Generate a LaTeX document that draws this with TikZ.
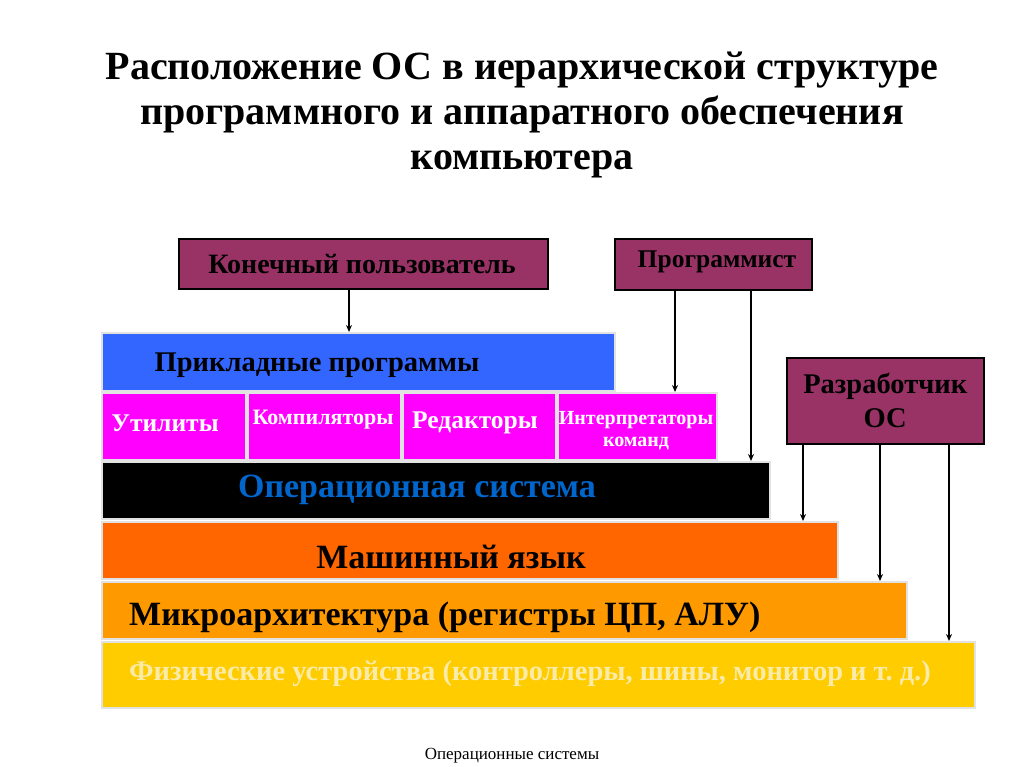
\documentclass[tikz,border=0pt]{standalone}
\usepackage{fontspec}
\setmainfont{Liberation Serif}
\usetikzlibrary{arrows.meta}
\definecolor{maroon}{HTML}{993366}
\definecolor{appblue}{HTML}{3366FF}
\definecolor{mag}{HTML}{FF00FF}
\definecolor{osblue}{HTML}{0066CC}
\definecolor{mlorange}{HTML}{FF6600}
\definecolor{maorange}{HTML}{FF9900}
\definecolor{hwyellow}{HTML}{FFCC00}
\definecolor{hwtext}{HTML}{FAEBA8}
\definecolor{edge}{HTML}{E2E2E2}
\begin{document}
\begin{tikzpicture}[x=1pt,y=-1pt,
  role/.style={draw=black,line width=1.5pt,fill=maroon,inner sep=0pt},
  layer/.style={draw=edge,line width=2pt,inner sep=0pt,anchor=north west},
  arr/.style={line width=1.8pt,-{Stealth[length=7pt,width=6pt]}}]
\useasboundingbox (0,0) rectangle (1024,767);
\fill[white] (0,0) rectangle (1024,767);
% title
\node[align=center,font=\bfseries\fontsize{40}{45}\selectfont] (title) at (522,115)
  {Расположение ОС в иерархической структуре\\программного и аппаратного обеспечения\\компьютера};
% roles
\node[role,minimum width=369pt,minimum height=50pt,anchor=north west] (user) at (178,238) {};
\node[font=\bfseries\fontsize{28}{30}\selectfont] at (362,264) {Конечный пользователь};
\node[role,minimum width=197pt,minimum height=51pt,anchor=north west] (prog) at (614,238) {};
\node[font=\bfseries\fontsize{25.5}{28}\selectfont] at (717,262) {Программист};
\node[role,minimum width=197pt,minimum height=86pt,anchor=north west,align=center,font=\bfseries\fontsize{28.5}{34}\selectfont] (dev) at (786,357) {Разработчик\\ОС};
% layers
\node[layer,fill=appblue,minimum width=513pt,minimum height=58pt] (apps) at (101,332) {};
\node[font=\bfseries\fontsize{28.5}{30}\selectfont] at (317,365) {Прикладные программы};
\node[layer,fill=mag,minimum width=144pt,minimum height=67pt] (util) at (101,392) {};
\node[text=white,font=\bfseries\fontsize{25.5}{28}\selectfont] at (165,423) {Утилиты};
\node[layer,fill=mag,minimum width=153pt,minimum height=67pt] (comp) at (247,392) {};
\node[text=white,font=\bfseries\fontsize{22}{24}\selectfont] at (323,420) {Компиляторы};
\node[layer,fill=mag,minimum width=153pt,minimum height=67pt] (edit) at (402,392) {};
\node[text=white,font=\bfseries\fontsize{25.5}{28}\selectfont] at (475,423) {Редакторы};
\node[layer,fill=mag,minimum width=159pt,minimum height=67pt] (interp) at (557,392) {};
\node[text=white,align=center,font=\bfseries\fontsize{20}{22}\selectfont] at (636,431) {Интерпретаторы\\команд};
\node[layer,fill=black,minimum width=668pt,minimum height=57pt] (os) at (101,461) {};
\node[text=osblue,font=\bfseries\fontsize{34}{36}\selectfont] at (417,490) {Операционная система};
\node[layer,fill=mlorange,minimum width=736pt,minimum height=57pt] (ml) at (101,521) {};
\node[font=\bfseries\fontsize{34}{36}\selectfont] at (451,557) {Машинный язык};
\node[layer,fill=maorange,minimum width=805pt,minimum height=57pt] (ma) at (101,581) {};
\node[font=\bfseries\fontsize{34}{36}\selectfont,anchor=west,inner sep=0pt] at (129,617) {Микроархитектура (регистры ЦП, АЛУ)};
\node[layer,fill=hwyellow,minimum width=873pt,minimum height=66pt] (hw) at (101,641) {};
\node[text=hwtext,font=\bfseries\fontsize{28.5}{30}\selectfont,anchor=west,inner sep=0pt] at (129,674) {Физические устройства (контроллеры, шины, монитор и т.~д.)};
% arrow columns
\coordinate (c1) at (349,0);
\coordinate (c2) at (675,0);
\coordinate (c3) at (751,0);
\coordinate (c4) at (803,0);
\coordinate (c5) at (880,0);
\coordinate (c6) at (949,0);
\draw[arr] (user.south -| c1) -- (apps.north -| c1);
\draw[arr] (prog.south -| c2) -- (interp.north -| c2);
\draw[arr] (prog.south -| c3) -- (os.north -| c3);
\draw[arr] (dev.south -| c4) -- (ml.north -| c4);
\draw[arr] (dev.south -| c5) -- (ma.north -| c5);
\draw[arr] (dev.south -| c6) -- (hw.north -| c6);
% footer
\node[font=\fontsize{17}{19}\selectfont] (footer) at (512,756) {Операционные системы};
\end{tikzpicture}
\end{document}
